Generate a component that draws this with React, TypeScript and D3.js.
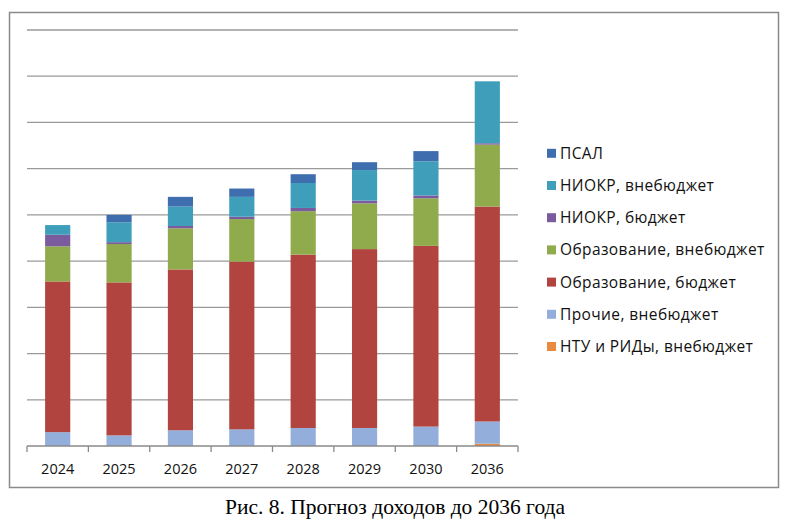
import { useEffect, useRef } from 'react';
import * as d3 from 'd3';

const years = ['2024', '2025', '2026', '2027', '2028', '2029', '2030', '2036'];

// values (1 gridline = 100)
const ntuRid = [0, 0, 0, 0, 0, 0, 0, 5];
const other = [30, 23, 34, 36, 39, 39, 42, 48];
const eduBudget = [326, 331, 348, 363, 375, 387, 391, 465];
const eduExtra = [76, 83, 89, 92, 94, 99, 103, 134];
const rdBudget = [25, 4, 5, 5, 7, 6, 6, 3];
const rdExtra = [21, 43, 42, 43, 54, 66, 74, 134];
const psal = [0, 16, 21, 18, 19, 17, 22, 0];

const yTicks = [0, 100, 200, 300, 400, 500, 600, 700, 800, 900];

const seriesNames = [
  'НТУ и РИДы, внебюджет',
  'Прочие, внебюджет',
  'Образование, бюджет',
  'Образование, внебюджет',
  'НИОКР, бюджет',
  'НИОКР, внебюджет',
  'ПСАЛ',
];
const seriesValues = [ntuRid, other, eduBudget, eduExtra, rdBudget, rdExtra, psal];
const seriesColors = ['#ea8a3e', '#93aedb', '#b2443f', '#8fab4c', '#7a5b9e', '#3f9fbb', '#3f6eae'];

const caption = 'Рис. 8. Прогноз доходов до 2036 года';

const App = () => {
  const svgRef = useRef<SVGSVGElement | null>(null);
  const width = 794;
  const height = 532;

  useEffect(() => {
    if (!svgRef.current) return;
    const svg = d3.select(svgRef.current);
    svg.selectAll('*').remove();

    const plot = { left: 27, right: 518, top: 30, bottom: 446 };
    const font = '"Open Sans", sans-serif';

    // outer frame
    svg.append('rect')
      .attr('x', 9.5)
      .attr('y', 12.5)
      .attr('width', 769)
      .attr('height', 475)
      .attr('fill', '#fff')
      .attr('stroke', '#8a8a8a')
      .attr('stroke-width', 1.5);

    const x = d3.scaleBand<string>()
      .domain(years)
      .range([plot.left, plot.right])
      .padding(0);

    const y = d3.scaleLinear()
      .domain([0, 900])
      .range([plot.bottom, plot.top]);

    // gridlines
    svg.append('g')
      .selectAll('line')
      .data(yTicks.slice(1))
      .enter()
      .append('line')
      .attr('x1', plot.left)
      .attr('x2', plot.right)
      .attr('y1', d => y(d))
      .attr('y2', d => y(d))
      .attr('stroke', '#9a9a9a')
      .attr('stroke-width', 1.3);

    // stacked bars
    const table = years.map((yr, i) => {
      const row: Record<string, number | string> = { year: yr };
      seriesNames.forEach((n, s) => { row[n] = seriesValues[s][i]; });
      return row;
    });
    const stack = d3.stack<Record<string, number | string>>()
      .keys(seriesNames)
      .value((d, key) => d[key] as number);
    const layers = stack(table);

    const barW = x.bandwidth() * 0.41;
    layers.forEach((layer, s) => {
      svg.append('g')
        .selectAll('rect')
        .data(layer)
        .enter()
        .append('rect')
        .attr('x', d => (x(d.data.year as string) ?? 0) + (x.bandwidth() - barW) / 2)
        .attr('y', d => y(d[1]))
        .attr('width', barW)
        .attr('height', d => Math.max(0, y(d[0]) - y(d[1])))
        .attr('fill', seriesColors[s]);
    });

    // x axis
    const axis = svg.append('g');
    axis.append('line')
      .attr('x1', plot.left)
      .attr('x2', plot.right)
      .attr('y1', plot.bottom)
      .attr('y2', plot.bottom)
      .attr('stroke', '#8a8a8a')
      .attr('stroke-width', 1.3);
    const edges = years.map(yr => x(yr) as number).concat([plot.right]);
    axis.selectAll('line.tick')
      .data(edges)
      .enter()
      .append('line')
      .attr('class', 'tick')
      .attr('x1', d => d)
      .attr('x2', d => d)
      .attr('y1', plot.bottom)
      .attr('y2', plot.bottom + 6)
      .attr('stroke', '#8a8a8a')
      .attr('stroke-width', 1.3);
    axis.selectAll('text')
      .data(years)
      .enter()
      .append('text')
      .attr('x', d => (x(d) as number) + x.bandwidth() / 2)
      .attr('y', 473.5)
      .attr('text-anchor', 'middle')
      .style('font-family', font)
      .style('font-size', '14.5px')
      .style('fill', '#111')
      .text(d => d);

    // legend, top item is the last series
    const legend = svg.append('g');
    const order = seriesNames.map((_, i) => seriesNames.length - 1 - i);
    order.forEach((s, i) => {
      const cy = 153.3 + i * 32.2;
      legend.append('rect')
        .attr('x', 547)
        .attr('y', cy - 4.5)
        .attr('width', 9)
        .attr('height', 9)
        .attr('fill', seriesColors[s]);
      legend.append('text')
        .attr('x', 560)
        .attr('y', cy + 5.5)
        .style('font-family', font)
        .style('font-size', '15.5px')
        .style('letter-spacing', '0.4px')
        .style('fill', '#111')
        .text(seriesNames[s]);
    });

    // caption
    svg.append('text')
      .attr('x', 395)
      .attr('y', 514)
      .attr('text-anchor', 'middle')
      .style('font-family', '"Liberation Serif", "Times New Roman", serif')
      .style('font-size', '21.5px')
      .style('fill', '#000')
      .text(caption);
  }, []);

  return (
    <div style={{ position: 'absolute', left: 0, top: 0, background: '#fff' }}>
      <svg ref={svgRef} width={width} height={height} style={{ display: 'block' }} />
    </div>
  );
};

export default App;
